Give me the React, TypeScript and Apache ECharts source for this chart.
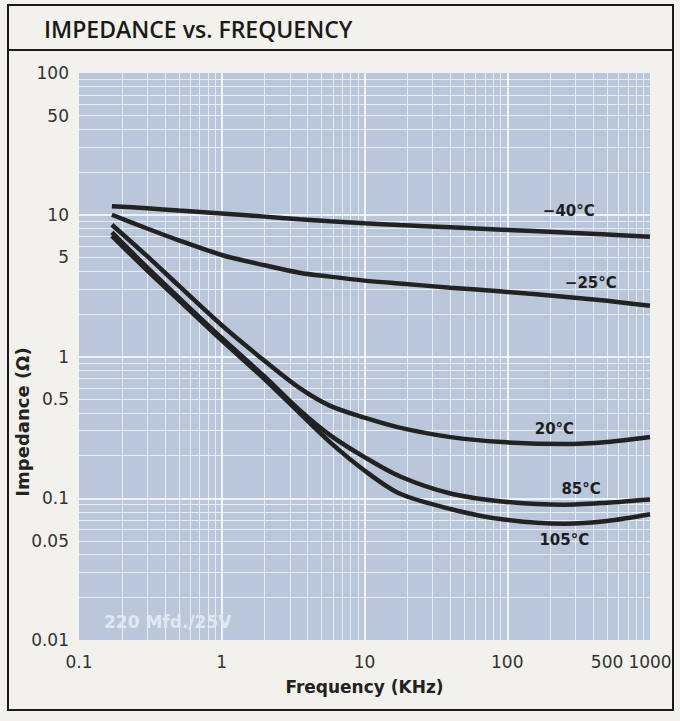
import React, { useEffect, useRef } from 'react';
import * as echarts from 'echarts';

// Frequency sample points (kHz)
const freqKHz = [0.17, 0.3, 0.5, 1, 2, 3.5, 5.7, 10, 17.6, 40, 92, 250, 500, 1000];
// Impedance (Ohm) per temperature
const zMinus40 = [11.5, 11.1, 10.7, 10.2, 9.7, 9.3, 9.0, 8.7, 8.45, 8.15, 7.85, 7.5, 7.25, 7.0];
const zMinus25 = [10.0, 8.0, 6.6, 5.2, 4.4, 3.9, 3.66, 3.43, 3.27, 3.06, 2.87, 2.64, 2.47, 2.28];
const z20 = [8.5, 5.1, 3.16, 1.66, 0.93, 0.6, 0.45, 0.37, 0.315, 0.27, 0.249, 0.241, 0.249, 0.27];
const z85 = [7.5, 4.25, 2.6, 1.35, 0.72, 0.42, 0.28, 0.195, 0.143, 0.108, 0.095, 0.09, 0.093, 0.098];
const z105 = [7.1, 4.05, 2.5, 1.3, 0.69, 0.4, 0.25, 0.157, 0.108, 0.084, 0.071, 0.066, 0.069, 0.077];

const seriesNames = ['−40°C', '−25°C', '20°C', '85°C', '105°C'];
const seriesValues = [zMinus40, zMinus25, z20, z85, z105];
// label anchor points [kHz, Ohm]
const labelAnchors: [number, number][] = [
  [270, 10.7],
  [385, 3.3],
  [214, 0.31],
  [329, 0.117],
  [251, 0.051],
];

const xTickLabels = [0.1, 1, 10, 100, 500, 1000];
const yTickLabels = [0.01, 0.05, 0.1, 0.5, 1, 5, 10, 50, 100];

const xDecades = [0.1, 1, 10, 100];
const yDecades = [0.01, 0.1, 1, 10];
const gridFactors = [2, 3, 4, 5, 6, 7, 8, 9];

const FONT = '"DejaVu Sans", sans-serif';

function buildOption() {
  const xMinor: number[] = [];
  xDecades.forEach((d) => gridFactors.forEach((f) => xMinor.push(d * f)));
  const yMinor: number[] = [];
  yDecades.forEach((d) => gridFactors.forEach((f) => yMinor.push(d * f)));
  const xMajor = [1, 10, 100];
  const yMajor = [0.1, 1, 10];

  const gridLines: any[] = [
    ...xMinor.map((v) => ({ xAxis: v, lineStyle: { color: '#e6ecf4', width: 1, type: 'solid' } })),
    ...yMinor.map((v) => ({ yAxis: v, lineStyle: { color: '#e6ecf4', width: 1, type: 'solid' } })),
    ...xMajor.map((v) => ({ xAxis: v, lineStyle: { color: '#ffffff', width: 1.6, type: 'solid' } })),
    ...yMajor.map((v) => ({ yAxis: v, lineStyle: { color: '#ffffff', width: 1.6, type: 'solid' } })),
  ];

  const curveSeries = seriesNames.map((name, i) => ({
    name,
    type: 'line',
    z: 5,
    smooth: 0.3,
    showSymbol: false,
    symbol: 'none',
    lineStyle: { color: '#222222', width: 4.5 },
    data: freqKHz.map((f, j) => [f, seriesValues[i][j]]),
    markPoint: {
      symbol: 'rect',
      symbolSize: 1,
      itemStyle: { color: 'rgba(0,0,0,0)' },
      silent: true,
      data: [{ coord: labelAnchors[i] }],
      label: {
        show: true,
        position: 'inside',
        formatter: name,
        color: '#1e1e1e',
        fontFamily: FONT,
        fontWeight: 'bold',
        fontSize: 15,
      },
    },
  }));

  return {
    animation: false,
    backgroundColor: 'transparent',
    grid: {
      left: 79,
      right: 30,
      top: 73,
      bottom: 81,
      show: true,
      backgroundColor: '#bac7da',
      borderWidth: 0,
    },
    xAxis: {
      type: 'log',
      logBase: 10,
      min: 0.1,
      max: 1000,
      axisLine: { show: false },
      axisTick: { show: false },
      splitLine: { show: false },
      axisLabel: {
        customValues: xTickLabels,
        formatter: (v: number) => String(v),
        margin: 13,
        fontFamily: FONT,
        fontSize: 17,
        color: '#333333',
      },
      name: 'Frequency (KHz)',
      nameLocation: 'middle',
      nameGap: 38,
      nameTextStyle: {
        fontFamily: FONT,
        fontWeight: 'bold',
        fontSize: 17,
        color: '#222222',
      },
    },
    yAxis: {
      type: 'log',
      logBase: 10,
      min: 0.01,
      max: 100,
      axisLine: { show: false },
      axisTick: { show: false },
      splitLine: { show: false },
      axisLabel: {
        customValues: yTickLabels,
        formatter: (v: number) => String(v),
        margin: 10,
        fontFamily: FONT,
        fontSize: 17,
        color: '#333333',
      },
    },
    graphic: [
      {
        type: 'rect',
        shape: { x: 8, y: 5, width: 665, height: 705 },
        style: { fill: 'none', stroke: '#1a1a1a', lineWidth: 2 },
        z: 10,
      },
      {
        type: 'line',
        shape: { x1: 8, y1: 50, x2: 673, y2: 50 },
        style: { stroke: '#1a1a1a', lineWidth: 2 },
        z: 10,
      },
      {
        type: 'text',
        x: 44,
        y: 29,
        style: {
          text: 'IMPEDANCE vs. FREQUENCY',
          fontFamily: '"Open Sans", sans-serif',
          fontWeight: 600,
          fontSize: 23,
          fill: '#1a1a1a',
          verticalAlign: 'middle',
          align: 'left',
        },
      },
      {
        type: 'text',
        x: 22,
        y: 422,
        rotation: Math.PI / 2,
        style: {
          text: 'Impedance (Ω)',
          fontFamily: FONT,
          fontWeight: 'bold',
          fontSize: 18,
          fill: '#222222',
          align: 'center',
          verticalAlign: 'middle',
        },
      },
      {
        type: 'text',
        x: 104,
        y: 622,
        z: 6,
        style: {
          text: '220 Mfd./25V',
          fontFamily: FONT,
          fontWeight: 'bold',
          fontSize: 17,
          fill: '#e2e8f1',
          align: 'left',
          verticalAlign: 'middle',
        },
      },
    ],
    series: [
      {
        name: 'grid',
        type: 'line',
        z: 1,
        silent: true,
        data: [],
        markLine: {
          silent: true,
          symbol: ['none', 'none'],
          label: { show: false },
          data: gridLines,
        },
      },
      ...curveSeries,
    ],
  };
}

export default function App() {
  const ref = useRef<HTMLDivElement>(null);
  useEffect(() => {
    const chart = echarts.init(ref.current!, null, { renderer: 'svg' });
    chart.setOption(buildOption() as any);
    return () => chart.dispose();
  }, []);
  return (
    <div
      style={{
        position: 'absolute',
        left: 0,
        top: 0,
        width: 680,
        height: 721,
        background: '#f2f1ec',
      }}
    >
      <div ref={ref} style={{ width: 680, height: 721 }} />
    </div>
  );
}
